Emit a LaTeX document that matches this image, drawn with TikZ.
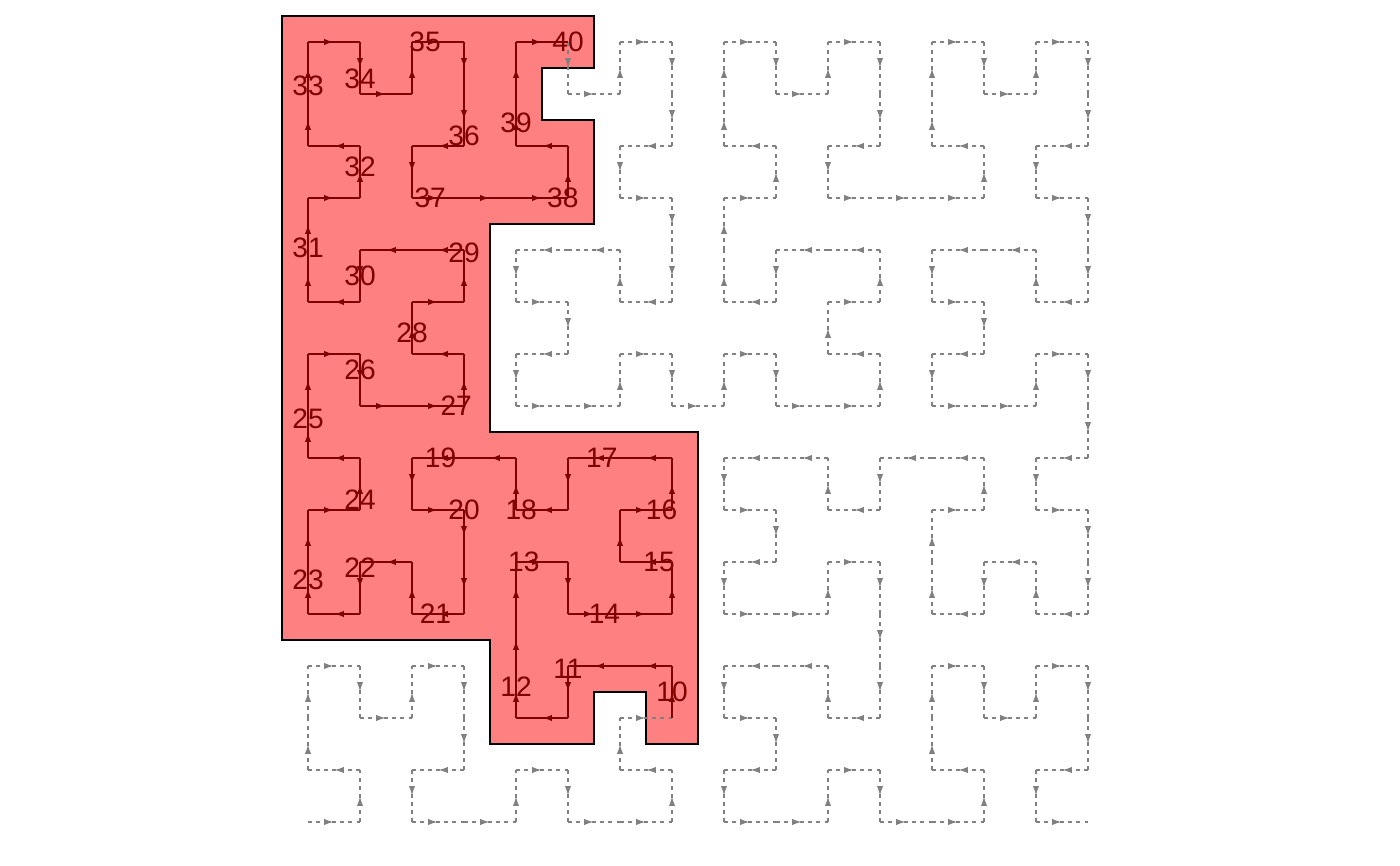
\documentclass[tikz,border=0pt]{standalone}
\usepackage{fontspec}
\setmainfont{Liberation Sans}
\usetikzlibrary{arrows.meta,decorations.markings}

\definecolor{regionred}{RGB}{255,128,128}
\definecolor{curvered}{RGB}{128,0,0}
\definecolor{curvegray}{RGB}{128,128,128}

\newcount\hilT \newcount\hilX \newcount\hilY
\newcount\hilRX \newcount\hilRY \newcount\hilS \newcount\hilA
\newcommand{\hilbertxy}[1]{%
  \hilT=#1\relax \hilX=0 \hilY=0 \hilS=1
  \loop
    \hilA=\hilT \divide\hilA by 2
    \hilRX=\hilA \divide\hilA by 2 \multiply\hilA by 2 \advance\hilRX by -\hilA
    \hilA=\hilT \divide\hilA by 2 \multiply\hilA by 2 \advance\hilA by -\hilT
    \multiply\hilA by -1
    \ifnum\hilA=\hilRX \hilRY=0 \else \hilRY=1 \fi
    \ifnum\hilRY=0
      \ifnum\hilRX=1
        \hilX=-\hilX \advance\hilX by \hilS \advance\hilX by -1
        \hilY=-\hilY \advance\hilY by \hilS \advance\hilY by -1
      \fi
      \hilA=\hilX \hilX=\hilY \hilY=\hilA
    \fi
    \ifnum\hilRX=1 \advance\hilX by \hilS \fi
    \ifnum\hilRY=1 \advance\hilY by \hilS \fi
    \divide\hilT by 4
    \multiply\hilS by 2
  \ifnum\hilS<16 \repeat
}

\tikzset{
  midarrow/.style={postaction={decorate},
    decoration={markings, mark=at position 0.5 with {\arrow{Latex[length=2.8pt,width=1.8pt]}}}},
  dotcurve/.style={curvegray, line width=0.5pt, dash pattern=on 1.15pt off 1.15pt, midarrow},
  redcurve/.style={curvered, line width=0.6pt, midarrow},
  region/.style={fill=regionred, draw=black, line width=0.6pt},
  pctlabel/.style={text=curvered, inner sep=0pt, font=\fontsize{8}{9}\selectfont}
}

\begin{document}
\begin{tikzpicture}
\useasboundingbox (0,0) rectangle (14,8.66);
\begin{scope}[x=0.52cm, y=0.52cm, shift={(3.08cm,0.44cm)}]
\draw[region] (-0.5,15.5) -- (5.5,15.5) -- (5.5,14.5) -- (4.5,14.5) -- (4.5,13.5)
  -- (5.5,13.5) -- (5.5,11.5) -- (3.5,11.5) -- (3.5,7.5) -- (7.5,7.5) -- (7.5,1.5)
  -- (6.5,1.5) -- (6.5,2.5) -- (5.5,2.5) -- (5.5,1.5) -- (3.5,1.5) -- (3.5,3.5)
  -- (-0.5,3.5) -- cycle;

\foreach \d in {0,...,255} {
  \hilbertxy{\d}
  \coordinate (p\d) at (\the\hilX,\the\hilY);
}

\foreach \d in {0,...,24} {
  \pgfmathtruncatemacro\e{\d+1}
  \draw[dotcurve] (p\d) -- (p\e);
}
\foreach \d in {102,...,254} {
  \pgfmathtruncatemacro\e{\d+1}
  \draw[dotcurve] (p\d) -- (p\e);
}
\foreach \d in {25,...,101} {
  \pgfmathtruncatemacro\e{\d+1}
  \draw[redcurve] (p\d) -- (p\e);
}

\foreach \k in {10,...,40} {
  \pgfmathsetmacro\dd{2.55*\k}
  \pgfmathtruncatemacro\a{\dd}
  \pgfmathtruncatemacro\b{\a+1}
  \pgfmathsetmacro\f{\dd-\a}
  \path (p\a) -- (p\b) node[pctlabel, pos=\f] (l\k) {\k};
}
\end{scope}
\end{tikzpicture}
\end{document}
